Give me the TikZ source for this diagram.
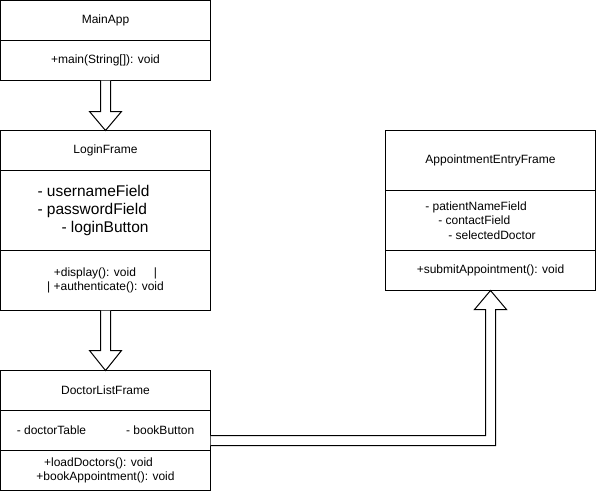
\documentclass[tikz,border=0pt]{standalone}
\usepackage{fontspec}
\setmainfont{Liberation Sans}
\usetikzlibrary{positioning,calc}

\begin{document}
\begin{tikzpicture}[line width=1pt,
    part/.style={draw,minimum width=210pt,outer sep=0pt,inner sep=2pt,
      font=\fontsize{12pt}{14pt}\selectfont,align=center},
    bigtext/.style={font=\fontsize{15.5pt}{18pt}\selectfont,align=left},
    smalltext/.style={font=\fontsize{12pt}{14.5pt}\selectfont,align=left},
    blockarrow/.style={draw,fill=white,line join=miter}]
    \useasboundingbox (0,0) rectangle (596pt,-491pt);

    % MainApp
    \node[part,minimum height=40pt,anchor=north west] (main) at (0.5pt,-0.5pt) {MainApp};
    \node[part,minimum height=40pt,below=0pt of main] (mainops) {+main(String[]): void};

    % LoginFrame
    \node[part,minimum height=40pt,below=50pt of mainops] (login) {LoginFrame};
    \node[part,minimum height=80pt,below=0pt of login] (loginattr) {};
    \node[part,minimum height=60pt,below=0pt of loginattr] (loginops)
      {+display(): void\hspace{18pt}|\\| +authenticate(): void};
    \node[bigtext,xshift=-12pt] (loginfields) at (loginattr)
      {- usernameField\\- passwordField\\\hspace*{24pt}- loginButton};

    % DoctorListFrame
    \node[part,minimum height=40pt,below=60pt of loginops] (doclist) {DoctorListFrame};
    \node[part,minimum height=40pt,below=0pt of doclist] (docattr)
      {- doctorTable\hspace{40pt}- bookButton};
    \node[part,minimum height=40pt,below=0pt of docattr] (docops)
      {+loadDoctors(): void\hspace*{14pt}\\+bookAppointment(): void};

    % AppointmentEntryFrame
    \node[part,minimum height=60pt,anchor=north west] (entry)
      at ([xshift=175pt]login.north east) {AppointmentEntryFrame};
    \node[part,minimum height=60pt,below=0pt of entry] (entryattr) {};
    \node[part,minimum height=40pt,below=0pt of entryattr] (entryops)
      {+submitAppointment(): void};
    \node[smalltext,xshift=-10pt] (entryfields) at (entryattr)
      {- patientNameField\\\hspace*{13pt}- contactField\\\hspace*{23pt}- selectedDoctor};

    % block arrows
    \draw[blockarrow] ([xshift=-5pt]mainops.south) -- ([xshift=-5pt,yshift=-31pt]mainops.south)
      -- ([xshift=-16pt,yshift=19pt]login.north) -- (login.north)
      -- ([xshift=16pt,yshift=19pt]login.north) -- ([xshift=5pt,yshift=-31pt]mainops.south)
      -- ([xshift=5pt]mainops.south);
    \draw[blockarrow] ([xshift=-5pt]loginops.south) -- ([xshift=-5pt,yshift=-40pt]loginops.south)
      -- ([xshift=-16pt,yshift=20pt]doclist.north) -- (doclist.north)
      -- ([xshift=16pt,yshift=20pt]doclist.north) -- ([xshift=5pt,yshift=-40pt]loginops.south)
      -- ([xshift=5pt]loginops.south);
    \draw[blockarrow] ([yshift=-5pt]docattr.east) -| ([xshift=-5pt,yshift=-19pt]entryops.south)
      -- ([xshift=-16pt,yshift=-19pt]entryops.south) -- (entryops.south)
      -- ([xshift=16pt,yshift=-19pt]entryops.south) -- ([xshift=5pt,yshift=-19pt]entryops.south)
      |- ([yshift=-15pt]docattr.east);
  \end{tikzpicture}
\end{document}
